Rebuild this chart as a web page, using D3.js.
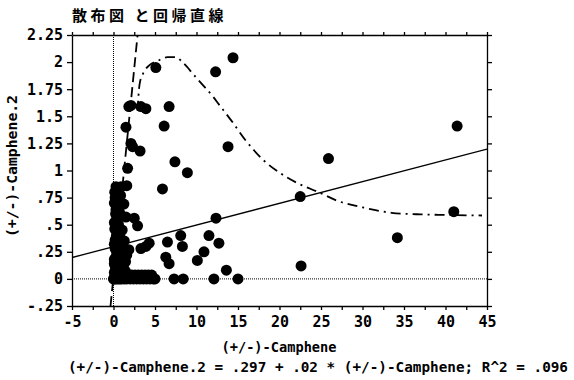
<!DOCTYPE html>
<html><head><meta charset="utf-8">
<script src="https://cdn.jsdelivr.net/npm/d3@7"></script>
<style>
html,body{margin:0;padding:0;background:#fff;}
svg{display:block;}
</style></head>
<body>
<svg id="c" width="574" height="380"></svg>
<script>
// ---- data ----
const title = "散布図 と回帰直線";
const xTitle = "(+/-)-Camphene";
const yTitle = "(+/-)-Camphene.2";
const equation = "(+/-)-Camphene.2 = .297 + .02 * (+/-)-Camphene; R^2 = .096";

const xTickValues = [-5,0,5,10,15,20,25,30,35,40,45];
const xMinorTicks = [-5,-2.5,0,2.5,5,7.5,10,12.5,15,17.5,20,22.5,25,27.5,30,32.5,35,37.5,40,42.5,45];
const yTickValues = [-0.25,0,0.25,0.5,0.75,1,1.25,1.5,1.75,2,2.25];
const yTickLabels = ["-.25","0",".25",".5",".75","1","1.25","1.5","1.75","2","2.25"];

const camphene = [
  41.4,25.9,22.5,41.0,34.2,22.6,
  14.4,5.1,12.3,
  1.85,2.1,3.3,3.9,6.7,
  1.5,6.1,
  2.1,2.3,3.2,13.8,
  7.4,8.9,1.7,
  5.9,12.35,
  8.1,8.3,11.5,12.7,10.9,10.1,13.6,
  6.5,6.3,6.7,
  7.3,8.4,12.1,15.0,
  2.5,2.9,3.3,3.9,4.3,
  0.3,0.45,0.9,1.6,0.85,0.4,1.25,0.3,0.85,0.4,1.5,1.05,0.3,0.5,0.2,0.7,1.1,1.85,0.2,0.4,1.0,0.1,0.6,1.45,0.2,0.9,1.45,0.1,0.5,1.0,
  0.15,0.2,0.1,0.25,0.1,0.35,0.1,0.3,0.1,0.25,0.6,0.7,0.55,0.6,0.8,1.2,0.75,1.3,1.6,0.45,0.15,0.5,0.2,
  0,0.05,0.2,0.4,0.6,0.8,1.0,1.3,1.6,2.0,2.4,2.8,3.2,3.6,4.0,4.4,4.8,5.0,
  0.2,0.6,1.0,1.4,1.8,2.2,2.6,3.0,3.4,3.8,4.2,4.6
];
const camphene2 = [
  1.41,1.11,0.76,0.62,0.38,0.12,
  2.04,1.95,1.91,
  1.59,1.60,1.59,1.57,1.59,
  1.40,1.41,
  1.25,1.22,1.18,1.22,
  1.08,0.98,1.02,
  0.83,0.56,
  0.40,0.30,0.40,0.33,0.25,0.17,0.08,
  0.34,0.20,0.14,
  0,0,0,0,
  0.56,0.49,0.28,0.30,0.33,
  0.85,0.83,0.85,0.86,0.77,0.72,0.69,0.64,0.59,0.56,0.57,0.45,0.48,0.42,0.36,0.33,0.30,0.27,0.28,0.24,0.22,0.18,0.16,0.16,0.12,0.10,0.07,0.06,0.04,0.03,
  0.80,0.75,0.70,0.60,0.52,0.40,0.32,0.20,0.14,0.08,0.50,0.62,0.72,0.27,0.38,0.12,0.06,0.35,0.22,0.66,0.46,0.30,0.02,
  0,0,0,0,0,0,0,0,0,0,0,0,0,0,0,0,0,0,
  0.035,0.035,0.035,0.035,0.035,0.035,0.035,0.035,0.035,0.035,0.035,0.035
];

// linear regression
const intercept = 0.297, slope = 0.02;
// steep dashed fit
const dashFitX = [-0.36, 2.9];
const dashFitY = [-0.25, 2.25];
// dash-dot smooth fit curve
const curveX = [2.9,3.0,3.15,3.6,4.3,5.3,6.5,7.5,8.3,9.7,10.5,11.9,12.7,14.2,16.0,17.0,18.0,20.0,22.0,24.7,27.0,30.0,33.5,37.0,40.0,44.4];
const curveY = [1.55,1.68,1.80,1.90,1.97,2.01,2.045,2.045,2.0,1.88,1.81,1.69,1.61,1.46,1.27,1.18,1.10,0.98,0.89,0.80,0.72,0.66,0.61,0.595,0.59,0.585];

// ---- drawing ----
const svg = d3.select("#c");
const x = d3.scaleLinear().domain([-5,45]).range([72,487]);
const y = d3.scaleLinear().domain([-0.25,2.25]).range([306,35]);
const mono = "'DejaVu Sans Mono', 'Liberation Mono', monospace";

svg.append("defs").append("clipPath").attr("id","clip")
  .append("rect").attr("x",72).attr("y",35).attr("width",415).attr("height",271);

// title
svg.append("text").attr("x",72).attr("y",21)
  .style("font-family","'Noto Sans CJK JP'").style("font-weight","bold").style("font-size","15px")
  .style("letter-spacing","3.5px")
  .text(title);

const plot = svg.append("g").attr("clip-path","url(#clip)");

// dotted reference lines
plot.append("line").attr("x1",x(0)).attr("x2",x(0)).attr("y1",y(2.25)).attr("y2",y(-0.25))
  .attr("stroke","#000").attr("stroke-width",1).attr("stroke-dasharray","1,1");
plot.append("line").attr("x1",x(-5)).attr("x2",x(45)).attr("y1",y(0)).attr("y2",y(0))
  .attr("stroke","#000").attr("stroke-width",1).attr("stroke-dasharray","1,1");

// points
plot.selectAll("circle.pt").data(camphene.map((v,i)=>[v,camphene2[i]])).join("circle")
  .attr("class","pt").attr("cx",d=>x(d[0])).attr("cy",d=>y(d[1])).attr("r",5.5).attr("fill","#000");

// regression line
plot.append("line").attr("x1",x(-5)).attr("y1",y(intercept+slope*-5))
  .attr("x2",x(45)).attr("y2",y(intercept+slope*45))
  .attr("stroke","#000").attr("stroke-width",1.3);

// dashed steep line
plot.append("line").attr("x1",x(dashFitX[0])).attr("y1",y(dashFitY[0]))
  .attr("x2",x(dashFitX[1])).attr("y2",y(dashFitY[1]))
  .attr("stroke","#000").attr("stroke-width",1.8).attr("stroke-dasharray","10,5");

// dash-dot curve
const line = d3.line().x(d=>x(d[0])).y(d=>y(d[1])).curve(d3.curveMonotoneX);
plot.append("path").datum(curveX.map((v,i)=>[v,curveY[i]]))
  .attr("d",line).attr("fill","none").attr("stroke","#000").attr("stroke-width",1.8)
  .attr("stroke-dasharray","10,5,2,5");

// axes
function styleAxis(g){
  g.select(".domain").attr("stroke","#000").attr("stroke-width",1.3);
  g.selectAll(".tick line").attr("stroke","#000").attr("stroke-width",1.3);
  g.selectAll("text").style("font-family",mono).style("font-size","15px").style("font-weight","bold").attr("fill","#000");
}
svg.append("g").attr("transform","translate(72,0)")
  .call(d3.axisLeft(y).tickValues(yTickValues).tickSize(5).tickSizeOuter(0).tickPadding(4)
    .tickFormat((d,i)=>yTickLabels[i]))
  .call(styleAxis);
svg.append("g").attr("transform","translate(487,0)")
  .call(d3.axisRight(y).tickValues(yTickValues).tickSize(5).tickSizeOuter(0).tickFormat(""))
  .call(styleAxis);
svg.append("g").attr("transform","translate(0,306)")
  .call(d3.axisBottom(x).tickValues(xMinorTicks).tickSize(4).tickSizeOuter(0).tickPadding(6)
    .tickFormat(d=>xTickValues.includes(d)?String(d):""))
  .call(styleAxis);
svg.append("g").attr("transform","translate(0,35)")
  .call(d3.axisTop(x).tickValues(xMinorTicks).tickSize(3).tickSizeOuter(0).tickFormat(""))
  .call(styleAxis);

// axis titles
svg.append("text").attr("x",279).attr("y",352).attr("text-anchor","middle")
  .style("font-family",mono).style("font-size","14px").style("font-weight","bold")
  .attr("textLength",115).attr("lengthAdjust","spacingAndGlyphs").text(xTitle);
svg.append("text").attr("transform","translate(17,166) rotate(-90)").attr("text-anchor","middle")
  .style("font-family",mono).style("font-size","14px").style("font-weight","bold")
  .attr("textLength",142).attr("lengthAdjust","spacingAndGlyphs").text(yTitle);
svg.append("text").attr("x",68).attr("y",372)
  .style("font-family",mono).style("font-size","14px").style("font-weight","bold")
  .attr("textLength",500).attr("lengthAdjust","spacingAndGlyphs").text(equation);
</script>
</body></html>
